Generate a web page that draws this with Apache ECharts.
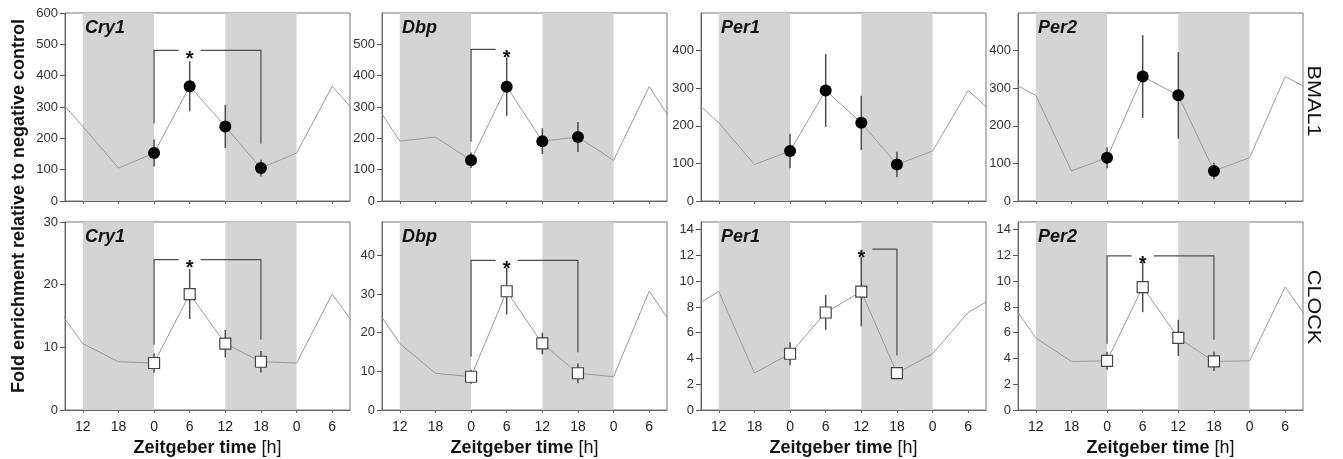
<!DOCTYPE html>
<html>
<head>
<meta charset="utf-8">
<script src="https://cdn.jsdelivr.net/npm/echarts@6/dist/echarts.min.js"></script>
<style>
html, body { margin: 0; padding: 0; background: #fff; }
#main { width: 1343px; height: 459px; }
</style>
</head>
<body>
<div id="main"></div>
<script>
// sampling times (ZT, h) and panel names
var times = [0, 6, 12, 18];
var genes = ['Cry1', 'Dbp', 'Per1', 'Per2'];
var factors = ['BMAL1', 'CLOCK'];

// fold enrichment, one row per gene
var bmal1Mean = [[153, 366, 238, 105], [130, 365, 191, 204], [133, 294, 208, 97], [115, 331, 281, 80]];
var bmal1Err = [[43, 80, 69, 27], [25, 93, 41, 48], [46, 97, 72, 34], [28, 110, 115, 22]];
var clockMean = [[7.5, 18.5, 10.6, 7.7], [8.6, 30.7, 17.2, 9.5], [4.37, 7.57, 9.2, 2.86], [3.82, 9.55, 5.6, 3.77]];
var clockErr = [[1.5, 4, 2.2, 1.7], [1.8, 6, 2.8, 2.6], [0.9, 1.35, 2.7, 0.45], [0.7, 1.95, 1.4, 0.75]];

// axes
var xTickTimes = [-12, -6, 0, 6, 12, 18, 24, 30];
var nightBands = [[-12, 0], [12, 24]];
var bmal1Max = [600, 600, 500, 500];
var clockMax = [30, 48.6, 14.6, 14.6];
var bmal1Ticks = [[0, 100, 200, 300, 400, 500, 600], [0, 100, 200, 300, 400, 500], [0, 100, 200, 300, 400], [0, 100, 200, 300, 400]];
var clockTicks = [[0, 10, 20, 30], [0, 10, 20, 30, 40], [0, 2, 4, 6, 8, 10, 12, 14], [0, 2, 4, 6, 8, 10, 12, 14]];

// significance brackets: x0..x1 at height top, legs down to left/right, star at x = star
var bmal1Brackets = [
    { x0: 0, x1: 18, top: 481, left: 247, right: 183, star: 6 },
    { x0: 0, x1: 6, top: 484, left: 189, right: null, star: 6 },
    null,
    null
];
var clockBrackets = [
    { x0: 0, x1: 18, top: 24.0, left: 10.4, right: 11.2, star: 6 },
    { x0: 0, x1: 18, top: 38.7, left: 13.8, right: 14.9, star: 6 },
    { x0: 12, x1: 18, top: 12.5, left: null, right: 4.24, star: 12 },
    { x0: 0, x1: 18, top: 11.97, left: 5.15, right: 5.46, star: 6 }
];

var FONT = 'Liberation Sans, Arial, sans-serif';
var gridLefts = [65, 382, 701, 1018];
var gridTops = [13, 222];
var gridW = 285, gridH = 188;

var myChart = echarts.init(document.getElementById('main'));

function errorBarItem(params, api) {
    var t = api.value(0), m = api.value(1), e = api.value(2);
    var hi = api.coord([t, m + e]);
    var lo = api.coord([t, m - e]);
    return {
        type: 'line',
        shape: { x1: hi[0], y1: hi[1], x2: lo[0], y2: lo[1] },
        style: { stroke: '#4d4d4d', lineWidth: 1.5 }
    };
}

function bracketItem(b) {
    return function (params, api) {
        var gap = 11;
        var style = { stroke: '#4d4d4d', lineWidth: 1.2, fill: null };
        var pl = api.coord([b.x0, b.top]);
        var pr = api.coord([b.x1, b.top]);
        var ps = api.coord([b.star, b.top]);
        var children = [];
        var pts = [];
        if (ps[0] - gap > pl[0]) {
            if (b.left != null) pts.push(api.coord([b.x0, b.left]));
            pts.push(pl, [Math.min(ps[0] - gap, pr[0]), pl[1]]);
            children.push({ type: 'polyline', shape: { points: pts }, style: style });
        }
        pts = [];
        if (ps[0] + gap < pr[0]) {
            pts.push([Math.max(ps[0] + gap, pl[0]), pr[1]], pr);
            if (b.right != null) pts.push(api.coord([b.x1, b.right]));
            children.push({ type: 'polyline', shape: { points: pts }, style: style });
        }
        children.push({
            type: 'text', x: ps[0], y: ps[1] + 9,
            style: { text: '*', fontSize: 20, fontWeight: 'bold', fontFamily: FONT, fill: '#111', align: 'center', verticalAlign: 'middle' }
        });
        return { type: 'group', children: children };
    };
}

var grids = [], xAxes = [], yAxes = [], series = [], graphics = [];

for (var row = 0; row < 2; row++) {
    for (var col = 0; col < 4; col++) {
        var p = row * 4 + col;
        var mean = row === 0 ? bmal1Mean[col] : clockMean[col];
        var err = row === 0 ? bmal1Err[col] : clockErr[col];
        var ticks = row === 0 ? bmal1Ticks[col] : clockTicks[col];
        var bracket = row === 0 ? bmal1Brackets[col] : clockBrackets[col];

        grids.push({
            left: gridLefts[col], top: gridTops[row], width: gridW, height: gridH,
            show: true, borderColor: '#777', borderWidth: 1, outerBoundsMode: 'none'
        });
        xAxes.push({
            type: 'value', gridIndex: p, min: -15, max: 33,
            axisLine: { show: true, onZero: false, lineStyle: { color: '#666', width: 1 } },
            axisTick: { show: true, length: 3, customValues: xTickTimes, lineStyle: { color: '#666' } },
            axisLabel: {
                show: row === 1, customValues: xTickTimes, fontSize: 14, color: '#222', margin: 10, fontFamily: FONT,
                formatter: function (v) { return ((v % 24) + 24) % 24; }
            },
            splitLine: { show: false },
            name: row === 1 ? '{b|Zeitgeber time} [h]' : '',
            nameLocation: 'middle', nameGap: 29,
            nameTextStyle: { fontSize: 18, color: '#111', fontFamily: FONT, rich: { b: { fontSize: 18, fontWeight: 'bold', color: '#111', fontFamily: FONT } } }
        });
        yAxes.push({
            type: 'value', gridIndex: p, min: 0, max: row === 0 ? bmal1Max[col] : clockMax[col],
            axisLine: { show: true, onZero: false, lineStyle: { color: '#666', width: 1 } },
            axisTick: { show: true, length: 5, customValues: ticks, lineStyle: { color: '#555' } },
            axisLabel: { customValues: ticks, fontSize: 13, color: '#333', margin: 7, fontFamily: FONT },
            splitLine: { show: false }
        });

        // periodic trace repeated over the previous and next day
        var trace = [];
        [-24, 0, 24].forEach(function (shift) {
            times.forEach(function (t, i) { trace.push([t + shift, mean[i]]); });
        });
        series.push({
            type: 'line', xAxisIndex: p, yAxisIndex: p, data: trace, symbol: 'none', silent: true, z: 2,
            lineStyle: { color: '#9a9a9a', width: 1 },
            markArea: {
                silent: true, itemStyle: { color: '#d4d4d4' },
                data: nightBands.map(function (b) { return [{ xAxis: b[0] }, { xAxis: b[1] }]; })
            }
        });
        series.push({
            type: 'custom', xAxisIndex: p, yAxisIndex: p, silent: true, z: 3,
            renderItem: errorBarItem,
            encode: { x: 0, y: 1 },
            data: times.map(function (t, i) { return [t, mean[i], err[i]]; })
        });
        if (bracket) {
            series.push({
                type: 'custom', xAxisIndex: p, yAxisIndex: p, silent: true, z: 4,
                renderItem: bracketItem(bracket),
                encode: { x: 0, y: 1 },
                data: [[bracket.star, bracket.top]]
            });
        }
        series.push({
            type: 'scatter', xAxisIndex: p, yAxisIndex: p, silent: true, z: 5,
            symbol: row === 0 ? 'circle' : 'rect',
            symbolSize: row === 0 ? 12 : 11,
            itemStyle: row === 0 ? { color: '#000', opacity: 1 } : { color: '#fff', borderColor: '#444', borderWidth: 1.2, opacity: 1 },
            data: times.map(function (t, i) { return [t, mean[i]]; })
        });

        graphics.push({
            type: 'text', left: gridLefts[col] + 20, top: gridTops[row] + 6, z: 10,
            style: { text: genes[col], fontSize: 18, fontWeight: 'bold', fontStyle: 'italic', fontFamily: FONT, fill: '#111' }
        });
    }
}

graphics.push({
    type: 'text', x: 19, y: 206, rotation: Math.PI / 2,
    style: { text: 'Fold enrichment relative to negative control', fontSize: 18, fontWeight: 'bold', fontFamily: FONT, fill: '#111', align: 'center', verticalAlign: 'middle' }
});
factors.forEach(function (f, i) {
    graphics.push({
        type: 'text', x: 1313, y: i === 0 ? 101 : 307, rotation: -Math.PI / 2, scaleX: 1.2,
        style: { text: f, fontSize: 18, fontFamily: FONT, fill: '#111', align: 'center', verticalAlign: 'middle' }
    });
});

var option = {
    animation: false,
    backgroundColor: '#fff',
    textStyle: { fontFamily: FONT },
    grid: grids,
    xAxis: xAxes,
    yAxis: yAxes,
    series: series,
    graphic: graphics
};

myChart.setOption(option);
</script>
</body>
</html>
